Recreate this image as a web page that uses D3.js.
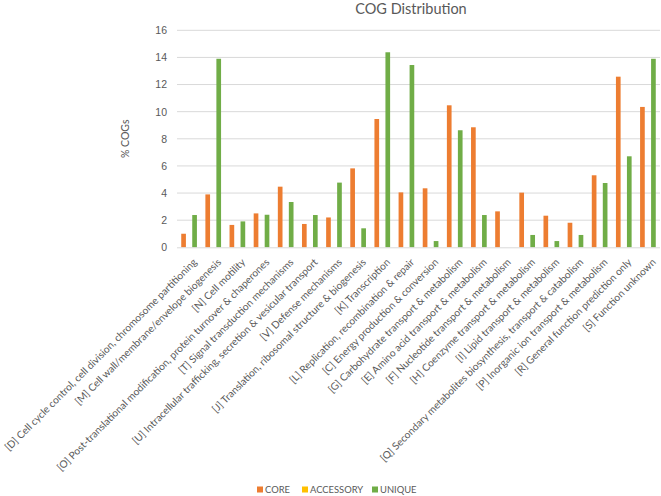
<!DOCTYPE html>
<html>
<head>
<meta charset="utf-8">
<script src="https://cdn.jsdelivr.net/npm/d3@7"></script>
<style>
  body { margin: 0; background: #fff; }
  svg { font-family: Lato, "Open Sans", sans-serif; }
</style>
</head>
<body>
<svg width="661" height="496"></svg>
<script>
const categories = [
  "[D] Cell cycle control, cell division, chromosome partitioning",
  "[M] Cell wall/membrane/envelope biogenesis",
  "[N] Cell motility",
  "[O] Post-translational modification, protein turnover & chaperones",
  "[T] Signal transduction mechanisms",
  "[U] Intracellular trafficking, secretion & vesicular transport",
  "[V] Defense mechanisms",
  "[J] Translation, ribosomal structure & biogenesis",
  "[K] Transcription",
  "[L] Replication, recombination & repair",
  "[C] Energy production & conversion",
  "[G] Carbohydrate transport & metabolism",
  "[E] Amino acid transport & metabolism",
  "[F] Nucleotide transport & metabolism",
  "[H] Coenzyme transport & metabolism",
  "[I] Lipid transport & metabolism",
  "[Q] Secondary metabolites biosynthesis, transport & catabolism",
  "[P] Inorganic ion transport & metabolism",
  "[R] General function prediction only",
  "[S] Function unknown"
];

const seriesNames = ["CORE", "ACCESSORY", "UNIQUE"];
const coreValues = [1.0, 3.9, 1.65, 2.5, 4.47, 1.72, 2.2, 5.82, 9.46, 4.05, 4.35, 10.47, 8.85, 2.65, 4.03, 2.33, 1.81, 5.31, 12.58, 10.35];
const accessoryValues = [0, 0, 0, 0, 0, 0, 0, 0, 0, 0, 0, 0, 0, 0, 0, 0, 0, 0, 0, 0];
const uniqueValues = [2.38, 13.9, 1.91, 2.4, 3.34, 2.38, 4.77, 1.4, 14.38, 13.44, 0.46, 8.63, 2.38, 0, 0.91, 0.46, 0.91, 4.74, 6.71, 13.9];
const yTicks = [0, 2, 4, 6, 8, 10, 12, 14, 16];
const colors = ["#ED7D31", "#FFC000", "#70AD47"];

const svg = d3.select("svg");
const plotLeft = 177, plotRight = 660, plotTop = 30.3, plotBottom = 247.3;
const textColor = "#595959";

const x = d3.scaleBand().domain(categories).range([plotLeft, plotRight]).padding(0);
const xs = d3.scaleBand().domain(seriesNames).range([0, x.bandwidth()])
  .paddingInner(0.15).paddingOuter(0.77);
const y = d3.scaleLinear().domain([0, 16]).range([plotBottom, plotTop]);
const color = d3.scaleOrdinal().domain(seriesNames).range(colors);

// gridlines
svg.append("g")
  .selectAll("line")
  .data(yTicks.filter(d => d > 0))
  .join("line")
    .attr("x1", plotLeft)
    .attr("x2", plotRight)
    .attr("y1", d => y(d))
    .attr("y2", d => y(d))
    .attr("stroke", "#d9d9d9")
    .attr("stroke-width", 1);

// y axis labels
const yAxis = svg.append("g")
  .attr("transform", `translate(${plotLeft},0)`)
  .call(d3.axisLeft(y).tickValues(yTicks).tickSize(0).tickPadding(10));
yAxis.select(".domain").remove();
yAxis.selectAll("text")
  .attr("fill", textColor)
  .style("font-size", "10.5px");

// bars
const rows = categories.map((c, i) => ({
  cat: c,
  vals: [coreValues[i], accessoryValues[i], uniqueValues[i]]
}));

svg.append("g")
  .selectAll("g")
  .data(rows)
  .join("g")
    .attr("transform", d => `translate(${x(d.cat)},0)`)
  .selectAll("rect")
  .data(d => d.vals.map((v, k) => ({ key: seriesNames[k], value: v })))
  .join("rect")
    .attr("x", d => xs(d.key))
    .attr("width", xs.bandwidth())
    .attr("y", d => y(d.value))
    .attr("height", d => y(0) - y(d.value))
    .attr("fill", d => color(d.key));

// x axis line
svg.append("line")
  .attr("x1", plotLeft)
  .attr("x2", plotRight)
  .attr("y1", plotBottom + 0.5)
  .attr("y2", plotBottom + 0.5)
  .attr("stroke", "#d9d9d9");

// category labels, rotated
svg.append("g")
  .selectAll("text")
  .data(categories)
  .join("text")
    .attr("transform", d => `translate(${x(d) + x.bandwidth() / 2 + 6},${plotBottom + 13}) rotate(-45)`)
    .attr("text-anchor", "end")
    .attr("dy", "0.35em")
    .attr("fill", textColor)
    .style("font-size", "10.2px")
    .text(d => d);

// y axis title
svg.append("text")
  .attr("transform", `translate(125,${(plotTop + plotBottom) / 2}) rotate(-90)`)
  .attr("text-anchor", "middle")
  .attr("dy", "0.35em")
  .attr("fill", textColor)
  .style("font-size", "10.5px")
  .text("% COGs");

// chart title
svg.append("text")
  .attr("x", 411)
  .attr("y", 14)
  .attr("text-anchor", "middle")
  .attr("fill", textColor)
  .style("font-size", "14.5px")
  .text("COG Distribution");

// legend
const legendX = [257, 302, 372];
const legend = svg.append("g")
  .selectAll("g")
  .data(seriesNames)
  .join("g")
    .attr("transform", (d, i) => `translate(${legendX[i]},490)`);
legend.append("rect")
  .attr("x", 0)
  .attr("y", -3.5)
  .attr("width", 6)
  .attr("height", 6)
  .attr("fill", d => color(d));
legend.append("text")
  .attr("x", 8)
  .attr("dy", "0.35em")
  .attr("fill", textColor)
  .style("font-size", "9.4px")
  .text(d => d);
</script>
</body>
</html>
